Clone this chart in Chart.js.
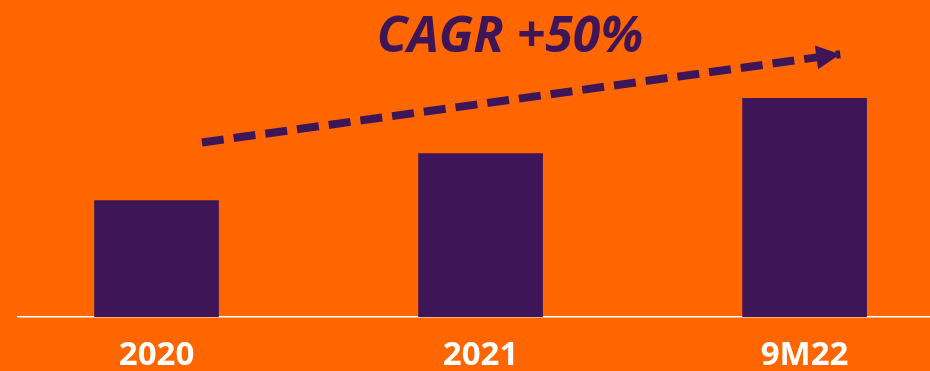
<!DOCTYPE html>
<html>
<head>
<meta charset="utf-8">
<script src="https://cdn.jsdelivr.net/npm/chart.js@4/dist/chart.umd.min.js"></script>
<style>
  html, body { margin: 0; padding: 0; background: #ff6600; overflow: hidden; }
  #wrap { width: 930px; height: 371px; }
</style>
</head>
<body>
<div id="wrap"><canvas id="c" width="930" height="371"></canvas></div>
<script>
// data
const categories = ["2020", "2021", "9M22"];
const values = [116, 163, 218];
// trend arrow, in axis units (x = category index, y = value)
const arrowX = [0.14, 2.11];
const arrowY = [174, 262];
const titleText = "CAGR +50%";

const purple = "#3e1658";

// arrowhead + title
const arrowPlugin = {
    id: "arrowHead",
    afterDatasetsDraw(chart) {
        const ctx = chart.ctx;
        const xs = chart.scales.x, ys = chart.scales.y;
        const x1 = xs.getPixelForValue(arrowX[0]), y1 = ys.getPixelForValue(arrowY[0]);
        const x2 = xs.getPixelForValue(arrowX[1]), y2 = ys.getPixelForValue(arrowY[1]);
        const a = Math.atan2(y2 - y1, x2 - x1);
        ctx.save();
        ctx.translate(x2, y2);
        ctx.rotate(a);
        ctx.fillStyle = purple;
        ctx.beginPath();
        ctx.moveTo(0, 0);
        ctx.lineTo(-24, -12);
        ctx.lineTo(-24, 12);
        ctx.closePath();
        ctx.fill();
        ctx.restore();

        ctx.save();
        ctx.fillStyle = purple;
        ctx.font = "italic 700 50px 'Open Sans'";
        ctx.textAlign = "center";
        ctx.textBaseline = "alphabetic";
        ctx.fillText(titleText, 510, 52);
        ctx.restore();
    }
};

new Chart(document.getElementById("c"), {
    data: {
        datasets: [
            {
                type: "line",
                data: arrowX.map((x, i) => ({ x: x, y: arrowY[i] })),
                borderColor: purple,
                borderWidth: 8,
                borderDash: [22, 10],
                borderCapStyle: "butt",
                pointRadius: 0,
                tension: 0
            },
            {
                type: "bar",
                data: categories.map((c, i) => ({ x: i, y: values[i] })),
                backgroundColor: purple,
                barThickness: 124
            }
        ]
    },
    options: {
        responsive: false,
        animation: false,
        layout: { padding: { left: 18, right: 0, top: -1, bottom: -23 } },
        plugins: { legend: { display: false }, tooltip: { enabled: false } },
        scales: {
            x: {
                type: "linear",
                min: -0.4275,
                max: 2.387,
                offset: false,
                grid: { display: false, drawTicks: false, tickLength: 0, offset: false },
                border: { display: true, color: "#ffffff", width: 1.5 },
                afterBuildTicks: s => { s.ticks = categories.map((c, i) => ({ value: i })); },
                ticks: {
                    autoSkip: false,
                    maxRotation: 0,
                    padding: 22,
                    color: "#ffffff",
                    font: { family: "'Open Sans'", weight: "bold", size: 33, lineHeight: 1 },
                    callback: v => categories[v]
                }
            },
            y: {
                display: false,
                min: 0,
                max: 316
            }
        }
    },
    plugins: [arrowPlugin]
});
</script>
</body>
</html>
